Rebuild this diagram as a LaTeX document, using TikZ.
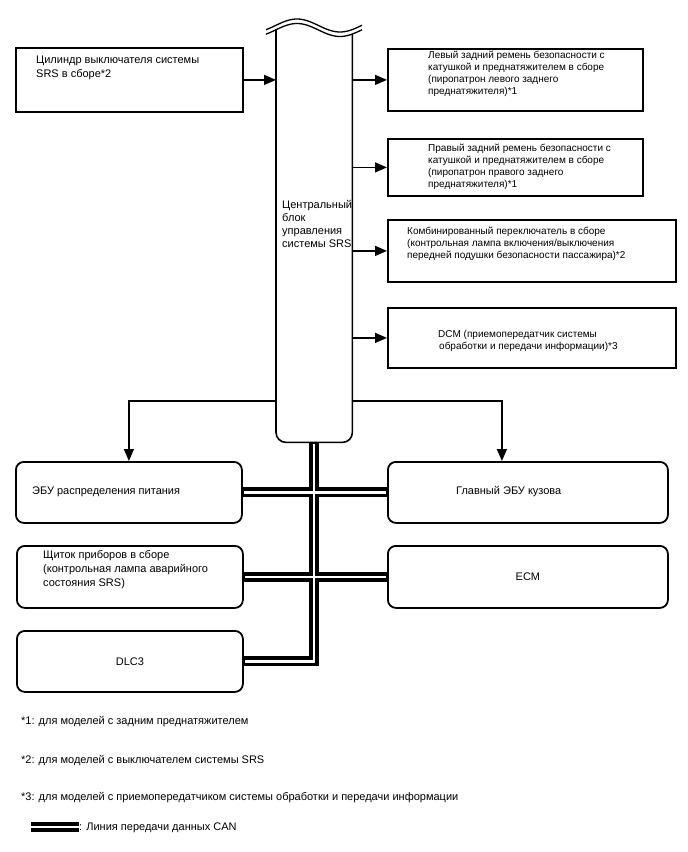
\documentclass[tikz,border=0pt]{standalone}
\usepackage{fontspec}
\setmainfont{Liberation Sans}
\usetikzlibrary{arrows.meta}
\begin{document}
\begin{tikzpicture}[x=1pt,y=1pt,
  box/.style={draw, line width=1.8pt, inner sep=0, anchor=north west},
  rbox/.style={box, rounded corners=8pt, font=\fontsize{11}{14}\selectfont},
  txt/.style={inner sep=0, anchor=north west, align=left, font=\fontsize{11}{14}\selectfont},
  stxt/.style={txt, font=\fontsize{10}{11.8}\selectfont},
  ctxt/.style={txt, font=\fontsize{11}{13}\selectfont},
  arr/.style={line width=1.3pt, -{Triangle[length=12pt,width=10pt]}},
  canout/.style={line width=10pt, line join=miter},
  canin/.style={line width=2.5pt, white, shorten <=1pt, shorten >=1pt},
  legin/.style={line width=2.5pt, white}]
\useasboundingbox (0,0) rectangle (688,-852);

% boxes
\node[box, minimum width=227, minimum height=64] (l1) at (15,-47) {};
\node[box, minimum width=255, minimum height=62] (r1) at (387,-48) {};
\node[box, minimum width=255, minimum height=57] (r2) at (387,-138) {};
\node[box, minimum width=288, minimum height=62] (r3) at (387,-219) {};
\node[box, minimum width=288, minimum height=60] (r4) at (387,-307) {};
\node[rbox, minimum width=226, minimum height=61] (b1) at (15,-461) {};
\node[rbox, minimum width=280, minimum height=61] (b2) at (387,-461) {};
\node[rbox, minimum width=226, minimum height=62] (b3) at (16,-545) {};
\node[rbox, minimum width=280, minimum height=62] (b4) at (387,-545) {ECM};
\node[rbox, minimum width=226, minimum height=61] (b5) at (16,-630) {DLC3};

% central block
\node[inner sep=0, minimum width=76, minimum height=413, anchor=north west] (ecu) at (276,-29) {};
\draw[line width=1.6pt, rounded corners=10pt] (ecu.north west) -- (ecu.south west) -- (ecu.south east) -- ([yshift=-5]ecu.north east);
\draw[line width=1.3pt] plot[domain=266:362, samples=60, smooth] (\x, {-(25.5-6.5*cos(180*(\x-297)/43))});
\draw[line width=1.3pt] plot[domain=266:362, samples=60, smooth] (\x, {-(30-6.5*cos(180*(\x-297)/43))});

% texts
\node[txt] (l1t) at (36,-55.5) {Цилиндр выключателя системы\\SRS в сборе*2};
\node[stxt] (r1t) at (428,-51) {Левый задний ремень безопасности с\\катушкой и преднатяжителем в сборе\\(пиропатрон левого заднего\\преднатяжителя)*1};
\node[stxt] (r2t) at (428,-144) {Правый задний ремень безопасности с\\катушкой и преднатяжителем в сборе\\(пиропатрон правого заднего\\преднатяжителя)*1};
\node[stxt] (r3t) at (407,-227) {Комбинированный переключатель в сборе\\(контрольная лампа включения/выключения\\передней подушки безопасности пассажира)*2};
\node[stxt] (r4t) at (438,-330) {DCM (приемопередатчик системы\\\hspace{1pt}обработки и передачи информации)*3};
\node[ctxt] (ecut) at (282,-200.5) {Центральный\\блок\\управления\\системы SRS};
\node[txt] (b1t) at (32,-486.5) {ЭБУ распределения питания};
\node[txt] (b2t) at (456,-486.5) {Главный ЭБУ кузова};
\node[txt] (b3t) at (43,-550.5) {Щиток приборов в сборе\\(контрольная лампа аварийного\\состояния SRS)};

% arrows
\draw[arr] (l1.east) -- (l1.east -| ecu.west);
\draw[arr] (r1.west -| ecu.east) -- (r1.west);
\draw[arr] (r2.west -| ecu.east) -- (r2.west);
\draw[arr] (r3.west -| ecu.east) -- (r3.west);
\draw[arr] (r4.west -| ecu.east) -- (r4.west);
\draw[arr] (ecu.west |- 0,-401) -| (b1.north);
\draw[arr] (ecu.east |- 0,-401) -| ([xshift=-26]b2.north);

% CAN
\draw[canout] ([yshift=-0.8]ecu.south) |- (b5.east);
\draw[canout] (b1.east) -- (b2.west);
\draw[canout] (b3.east) -- (b4.west);
\draw[canin] ([yshift=-0.8]ecu.south) |- (b5.east);
\draw[canin] (b1.east) -- (b2.west);
\draw[canin] (b3.east) -- (b4.west);

% footnotes
\node[txt] (f1) at (21,-716.5) {*1: для моделей с задним преднатяжителем};
\node[txt] (f2) at (21,-755.5) {*2: для моделей с выключателем системы SRS};
\node[txt] (f3) at (21,-792.5) {*3: для моделей с приемопередатчиком системы обработки и передачи информации};
\coordinate (lg1) at (31,-827);
\coordinate (lg2) at (79,-827);
\draw[canout] (lg1) -- (lg2);
\draw[legin] (lg1) -- (lg2);
\node[txt] (lgt) at (79,-822.5) {: Линия передачи данных CAN};
\end{tikzpicture}
\end{document}
